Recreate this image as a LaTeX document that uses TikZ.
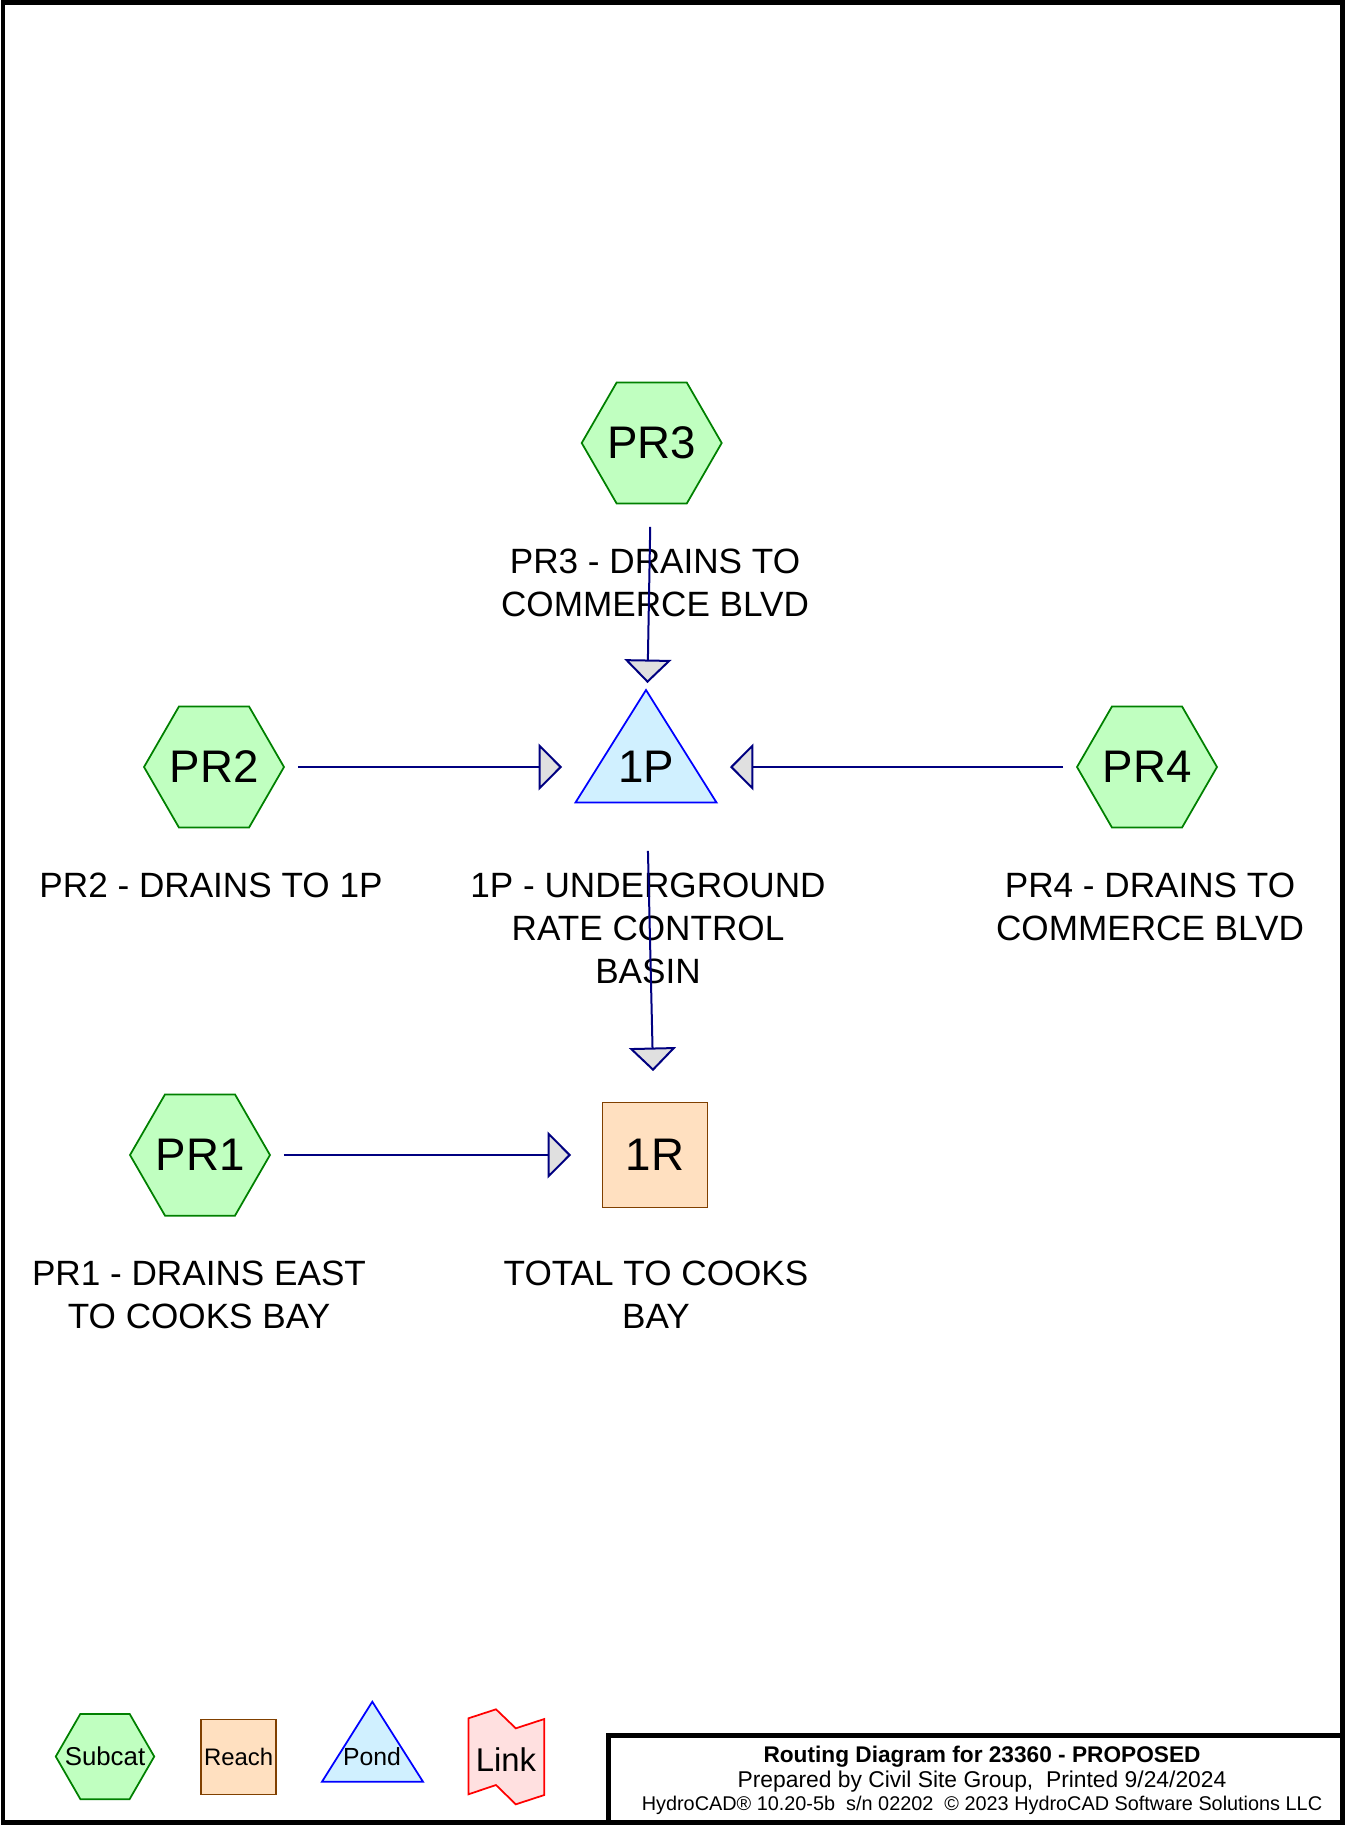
\documentclass[tikz,border=0pt]{standalone}
\usepackage{fontspec}
\setmainfont{Liberation Sans}
\usetikzlibrary{shapes.geometric,arrows.meta}
\definecolor{subfill}{RGB}{192,255,192}
\definecolor{subline}{RGB}{0,128,0}
\definecolor{reachfill}{RGB}{255,224,192}
\definecolor{reachline}{RGB}{128,64,0}
\definecolor{pondfill}{RGB}{208,240,255}
\definecolor{linkfill}{RGB}{255,224,224}
\definecolor{navyline}{RGB}{0,0,128}
\definecolor{tipfill}{RGB}{224,224,224}
\begin{document}
\begin{tikzpicture}[x=0.02cm,y=-0.02cm,
  subcatnode/.style={regular polygon,regular polygon sides=6,minimum size=2.8cm,inner sep=-6pt,draw=subline,fill=subfill,line width=0.035cm,font=\fontsize{26}{30}\selectfont},
  reachnode/.style={rectangle,minimum size=2.1cm,inner sep=0pt,draw=reachline,fill=reachfill,line width=0.035cm,font=\fontsize{26}{30}\selectfont},
  pondshape/.style={draw=blue,fill=pondfill,line width=0.035cm},
  linkshape/.style={draw=red,fill=linkfill,line width=0.035cm},
  flowline/.style={draw=navyline,line width=0.04cm,shorten <=1.68cm,shorten >=1.68cm,-{Triangle[length=0.47cm,width=0.94cm,fill=tipfill]}},
  desclabel/.style={anchor=north,inner sep=0pt,align=center,font=\fontsize{20}{24.5}\selectfont}]
\useasboundingbox (0,0) rectangle (1345,1825);
\draw[line width=0.1cm] (3,3) rectangle (1342,1822);
\draw[line width=0.1cm] (608,1822) |- (1342,1735.5);

\node[subcatnode] (PR3) at (651.7,443) {PR3};
\node[subcatnode] (PR2) at (214,767) {PR2};
\node[subcatnode] (PR4) at (1147,767) {PR4};
\node[subcatnode] (PR1) at (200,1155) {PR1};
\filldraw[pondshape] (575.5,802.5) -- (646,690) -- (716.5,802.5) -- cycle
  (646,767) node[font=\fontsize{26}{30}\selectfont] (1P) {1P};
\node[reachnode] (1R) at (655,1155) {1R};

\node[desclabel] (PR3-lbl) at (655,549) {PR3 - DRAINS TO\\COMMERCE BLVD};
\node[desclabel] (PR2-lbl) at (211,873) {PR2 - DRAINS TO 1P};
\node[desclabel] (1P-lbl) at (648,873) {1P - UNDERGROUND\\RATE CONTROL\\BASIN};
\node[desclabel] (PR4-lbl) at (1150,873) {PR4 - DRAINS TO\\COMMERCE BLVD};
\node[desclabel] (PR1-lbl) at (199,1261) {PR1 - DRAINS EAST\\TO COOKS BAY};
\node[desclabel] (1R-lbl) at (656,1261) {TOTAL TO COOKS\\BAY};

\draw[flowline] (PR3.center) -- (1P.center);
\draw[flowline] (PR2.center) -- (1P.center);
\draw[flowline] (PR4.center) -- (1P.center);
\draw[flowline] (1P.center) -- (1R.center);
\draw[flowline] (PR1.center) -- (1R.center);

\node[subcatnode,minimum size=1.97cm,font=\fontsize{14.7}{17}\selectfont] (key-sub) at (105,1756.5) {Subcat};
\node[reachnode,minimum size=1.5cm,font=\fontsize{13.6}{16}\selectfont] (key-reach) at (238.7,1757) {Reach};
\filldraw[pondshape] (322,1781.7) -- (372.3,1701.7) -- (423,1781.7) -- cycle
  (372,1757) node[font=\fontsize{14.1}{17}\selectfont] (key-pond) {Pond};
\filldraw[linkshape] (468.4,1718.3) -- (496,1709.3) -- (515.8,1728.3) -- (544.3,1719) -- (544.3,1795)
  -- (515.8,1804.3) -- (496,1785) -- (468.4,1794.3) -- cycle
  (506,1760) node[font=\fontsize{18.7}{22}\selectfont] (key-link) {Link};

\node[anchor=base,font=\bfseries\fontsize{12.9}{15}\selectfont] (title) at (982,1762) {Routing Diagram for 23360 - PROPOSED};
\node[anchor=base,font=\fontsize{13}{15}\selectfont] (prepared) at (982,1787) {Prepared by Civil Site Group,\ \ Printed 9/24/2024};
\node[anchor=base,font=\fontsize{11.3}{13}\selectfont] (version) at (982,1810) {HydroCAD® 10.20-5b\ \ s/n 02202\ \ © 2023 HydroCAD Software Solutions LLC};
\end{tikzpicture}
\end{document}
